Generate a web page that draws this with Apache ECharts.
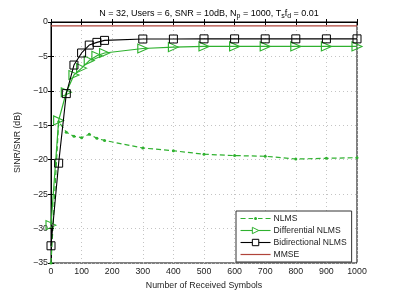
<!DOCTYPE html>
<html><head><meta charset="utf-8">
<script src="https://cdn.jsdelivr.net/npm/echarts@6/dist/echarts.min.js"></script>
<style>html,body{margin:0;padding:0;background:#fff}#c{width:395px;height:296px}</style>
</head><body><div id="c"></div>
<script>
const symbols = [0, 25, 50, 75, 100, 125, 150, 175, 300, 400, 500, 600, 700, 800, 900, 1000];
const nlms = [-35, -14.5, -16.0, -16.6, -16.8, -16.3, -16.9, -17.2, -18.3, -18.7, -19.2, -19.4, -19.5, -19.9, -19.8, -19.7];
const diffNlms = [-29.5, -14.3, -10.2, -7.7, -6.7, -5.6, -4.9, -4.5, -3.85, -3.65, -3.55, -3.55, -3.55, -3.55, -3.55, -3.55];
const biNlms = [-32.5, -20.5, -10.4, -6.25, -4.5, -3.35, -2.96, -2.67, -2.47, -2.47, -2.45, -2.45, -2.45, -2.45, -2.45, -2.45];
const mmseX = [0, 1000];
const mmse = [-0.55, -0.55];

const FONT = 'Liberation Sans';
const GREEN = '#2fb12f';
const RED = '#b0443a';
const pair = (xs, ys) => xs.map((x, i) => [x, ys[i]]);

const NLMS_ICON = 'path://M0,1H5V2H0Z M8,1H12.5V2H8Z M13.5,1.5a1.5,1.5 0 1,0 3,0a1.5,1.5 0 1,0 -3,0Z M17.5,1H22V2H17.5Z M25,1H30V2H25Z';
const MMSE_ICON = 'path://M0,0H30V1.2H0Z';

const chart = echarts.init(document.getElementById('c'), null, {renderer: 'canvas'});
const fmtY = v => String(v).replace('-', '\u2212');
chart.setOption({
  animation: false,
  textStyle: {fontFamily: FONT},
  title: {
    text: '{n|N = 32, Users = 6, SNR = 10dB, N}{s|p}{n| = 1000, T}{s|s}{n|f}{s|d}{n| = 0.01}',
    left: 204, top: 3, textAlign: 'center',
    textStyle: {
      fontWeight: 'normal',
      rich: {
        n: {fontSize: 9, fontFamily: FONT, color: '#000', fontWeight: 'normal'},
        s: {fontSize: 7, fontFamily: FONT, color: '#000', fontWeight: 'normal', verticalAlign: 'bottom', padding: [5, 0, 0, 0]}
      }
    }
  },
  grid: {left: 51, right: 38, top: 22, bottom: 33, show: true, borderColor: '#000', borderWidth: 1},
  xAxis: [{
    type: 'value', min: 0, max: 1000, interval: 100,
    name: 'Number of Received Symbols', nameLocation: 'middle', nameGap: 14,
    nameTextStyle: {fontSize: 8.8, color: '#222', fontFamily: FONT},
    axisLine: {show: true, lineStyle: {color: '#000'}},
    axisTick: {show: true, inside: true, length: 3, lineStyle: {color: '#000'}},
    axisLabel: {fontSize: 8.8, color: '#222', margin: 4, fontFamily: FONT, formatter: v => String(v)},
    splitLine: {show: true, lineStyle: {color: '#c4c4c4', type: [1, 3], width: 1}}
  }, {
    type: 'value', min: 0, max: 1000, interval: 100, position: 'top',
    axisLine: {show: true, lineStyle: {color: '#000'}},
    axisTick: {show: true, inside: true, length: 3, lineStyle: {color: '#000'}},
    axisLabel: {show: false}, splitLine: {show: false}
  }],
  yAxis: [{
    type: 'value', min: -35, max: 0, interval: 5,
    name: 'SINR/SNR (dB)', nameLocation: 'middle', nameGap: 24, nameRotate: 90,
    nameTextStyle: {fontSize: 8.8, color: '#222', fontFamily: FONT},
    axisLine: {show: true, lineStyle: {color: '#000'}},
    axisTick: {show: true, inside: true, length: 3, lineStyle: {color: '#000'}},
    axisLabel: {fontSize: 8.8, color: '#222', margin: 3, formatter: fmtY, fontFamily: FONT},
    splitLine: {show: true, lineStyle: {color: '#c4c4c4', type: [1, 3], width: 1}}
  }, {
    type: 'value', min: -35, max: 0, interval: 5, position: 'right',
    axisLine: {show: true, lineStyle: {color: '#000'}},
    axisTick: {show: true, inside: true, length: 3, lineStyle: {color: '#000'}},
    axisLabel: {show: false}, splitLine: {show: false}
  }],
  legend: {
    orient: 'vertical', left: 236, top: 211,
    backgroundColor: '#fff', borderColor: '#333', borderWidth: 1,
    padding: [3, 5, 3, 4], itemGap: 3, itemWidth: 30, itemHeight: 8,
    lineStyle: {width: 1.1},
    textStyle: {fontSize: 8.6, color: '#222', fontFamily: FONT, padding: [0, 0, 0, -2]},
    data: [
      {name: 'NLMS', icon: NLMS_ICON, itemStyle: {color: GREEN, borderWidth: 0}},
      {name: 'Differential NLMS', itemStyle: {color: '#fff', borderColor: GREEN, borderWidth: 1}},
      {name: 'Bidirectional NLMS', itemStyle: {color: '#fff', borderColor: '#000', borderWidth: 1}},
      {name: 'MMSE', icon: MMSE_ICON, itemStyle: {color: RED, borderWidth: 0}}
    ]
  },
  series: [
    {
      name: 'NLMS', type: 'line', data: pair(symbols, nlms),
      symbol: 'circle', symbolSize: 3, showAllSymbol: true,
      lineStyle: {color: GREEN, width: 1.2, type: [5, 3]},
      itemStyle: {color: GREEN}, z: 3
    },
    {
      name: 'Differential NLMS', type: 'line', data: pair(symbols, diffNlms),
      symbol: 'triangle', symbolSize: [9, 10], symbolRotate: -90, showAllSymbol: true,
      lineStyle: {color: GREEN, width: 1.2},
      itemStyle: {color: 'rgba(0,0,0,0)', borderColor: GREEN, borderWidth: 1.1}, z: 4
    },
    {
      name: 'Bidirectional NLMS', type: 'line', data: pair(symbols, biNlms),
      symbol: 'rect', symbolSize: 8, showAllSymbol: true,
      lineStyle: {color: '#000', width: 1.1},
      itemStyle: {color: 'rgba(0,0,0,0)', borderColor: '#000', borderWidth: 1}, z: 5
    },
    {
      name: 'MMSE', type: 'line', data: pair(mmseX, mmse),
      symbol: 'none', lineStyle: {color: RED, width: 1.2},
      itemStyle: {color: RED}, z: 2
    }
  ]
});
</script>
</body></html>
